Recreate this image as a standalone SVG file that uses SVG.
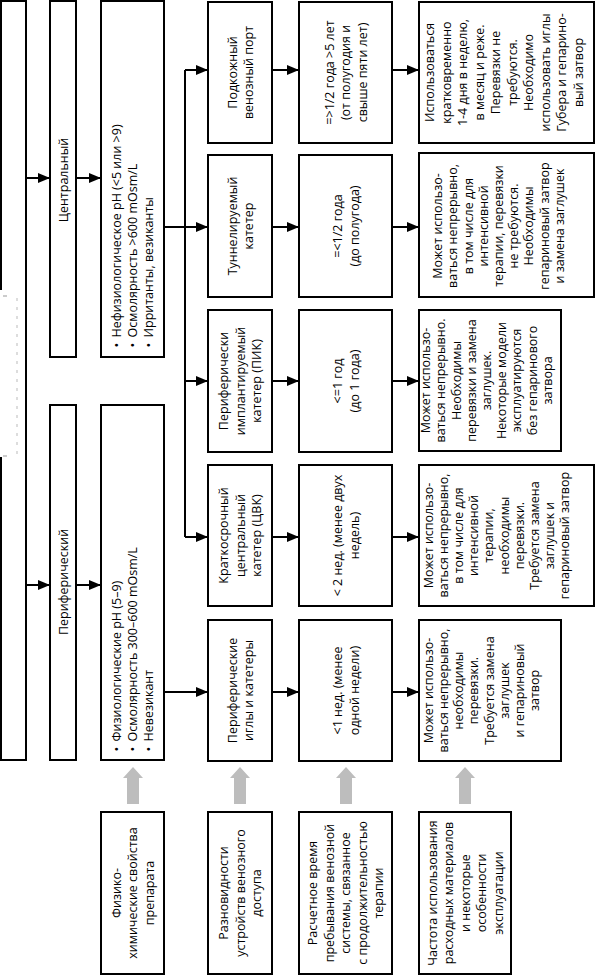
<svg xmlns="http://www.w3.org/2000/svg" width="595" height="977" viewBox="0 0 595 977">
<style>
.box{fill:#fff;stroke:#000;stroke-width:2}
.t{font-family:"Open Sans","Noto Sans",sans-serif;font-size:12.5px;fill:#000}
.m{text-anchor:middle}
.c{stroke:#000;stroke-width:2;fill:none}
.a{marker-end:url(#ah)}
.g{fill:#bdbdbd}
</style>
<defs>
<marker id="ah" viewBox="0 0 12 10" markerWidth="12" markerHeight="10" refX="12" refY="5" orient="auto" markerUnits="userSpaceOnUse">
<path d="M0,0 L12,5 L0,10 z" fill="#000"/>
</marker>
</defs>
<rect width="595" height="977" fill="#fff"/>

<g id="frame">
<path d="M1,290 L1,1 L26,1 L26,760 L1,760 L1,457" fill="none" stroke="#000" stroke-width="2"/>
<path d="M3,296 L7,296 M3,456 L7,456" stroke="#999" stroke-width="1"/>
<line x1="17" y1="298" x2="17" y2="455" stroke="#bbb" stroke-width="1" stroke-dasharray="3,6"/>
</g>

<g id="n-central">
<rect class="box" x="50" y="1" width="26" height="356"/>
<text class="t m" transform="translate(63,180) rotate(-90)" y="4.5">Центральный</text>
</g>
<g id="n-peripheral">
<rect class="box" x="50" y="405" width="26" height="355"/>
<text class="t m" transform="translate(63,582) rotate(-90)" y="4.5">Периферический</text>
</g>

<g id="n-central-props">
<rect class="box" x="101" y="1" width="63" height="356"/>
<g class="t" transform="translate(132.5,179.5) rotate(-90)">
<text x="-168" y="-12">•</text><text x="-158" y="-12">Нефизиологическое рН (&lt;5 или &gt;9)</text>
<text x="-168" y="4">•</text><text x="-158" y="4">Осмолярность &gt;600 mOsm/L</text>
<text x="-168" y="20">•</text><text x="-158" y="20">Ирританты, везиканты</text>
</g>
</g>
<g id="n-peripheral-props">
<rect class="box" x="101" y="405" width="63" height="355"/>
<g class="t" transform="translate(132.5,582.5) rotate(-90)">
<text x="-169" y="-12">•</text><text x="-159" y="-12">Физиологические рН (5–9)</text>
<text x="-169" y="4">•</text><text x="-159" y="4">Осмолярность 300–600 mOsm/L</text>
<text x="-169" y="20">•</text><text x="-159" y="20">Невезикант</text>
</g>
</g>

<g id="n-port">
<rect class="box" x="208" y="2" width="64" height="141"/>
<text class="t m" transform="translate(240,72.5) rotate(-90)"><tspan x="0" y="-3.5">Подкожный</tspan><tspan x="0" y="13">венозный порт</tspan></text>
</g>
<g id="n-tunnel">
<rect class="box" x="208" y="155" width="64" height="142"/>
<text class="t m" transform="translate(240,226) rotate(-90)"><tspan x="0" y="-3.5">Туннелируемый</tspan><tspan x="0" y="13">катетер</tspan></text>
</g>
<g id="n-pik">
<rect class="box" x="208" y="310" width="64" height="142"/>
<text class="t m" transform="translate(240,381) rotate(-90)"><tspan x="0" y="-12">Периферически</tspan><tspan x="0" y="4.5">имплантируемый</tspan><tspan x="0" y="21">катетер (ПИК)</tspan></text>
</g>
<g id="n-cvk">
<rect class="box" x="208" y="465" width="64" height="141"/>
<text class="t m" transform="translate(240,535.5) rotate(-90)"><tspan x="0" y="-12">Краткосрочный</tspan><tspan x="0" y="4.5">центральный</tspan><tspan x="0" y="21">катетер (ЦВК)</tspan></text>
</g>
<g id="n-needles">
<rect class="box" x="208" y="620" width="64" height="141"/>
<text class="t m" transform="translate(240,690.5) rotate(-90)"><tspan x="0" y="-3.5">Периферические</tspan><tspan x="0" y="13">иглы и катетеры</tspan></text>
</g>

<g id="n-time-port">
<rect class="box" x="299" y="2" width="93" height="141"/>
<text class="t m" transform="translate(345.5,72.5) rotate(-90)"><tspan x="0" y="-12">=&gt;1/2 года &gt;5 лет</tspan><tspan x="0" y="4.5">(от полугодия и</tspan><tspan x="0" y="21">свыше пяти лет)</tspan></text>
</g>
<g id="n-time-tunnel">
<rect class="box" x="299" y="155" width="93" height="142"/>
<text class="t m" transform="translate(345.5,226) rotate(-90)"><tspan x="0" y="-3.5">=&lt;1/2 года</tspan><tspan x="0" y="13">(до полугода)</tspan></text>
</g>
<g id="n-time-pik">
<rect class="box" x="299" y="310" width="93" height="142"/>
<text class="t m" transform="translate(345.5,381) rotate(-90)"><tspan x="0" y="-3.5">&lt;=1 год</tspan><tspan x="0" y="13">(до 1 года)</tspan></text>
</g>
<g id="n-time-cvk">
<rect class="box" x="299" y="465" width="93" height="141"/>
<text class="t m" transform="translate(345.5,535.5) rotate(-90)"><tspan x="0" y="-3.5">&lt; 2 нед. (менее двух</tspan><tspan x="0" y="13">недель)</tspan></text>
</g>
<g id="n-time-needles">
<rect class="box" x="299" y="620" width="93" height="141"/>
<text class="t m" transform="translate(345.5,690.5) rotate(-90)"><tspan x="0" y="-3.5">&lt;1 нед. (менее</tspan><tspan x="0" y="13">одной недели)</tspan></text>
</g>

<g id="n-use-port">
<rect class="box" x="419" y="2" width="175" height="141"/>
<text class="t m" transform="translate(504,72.5) rotate(-90)"><tspan x="0" y="-69.75">Использоваться</tspan><tspan x="0" y="-53.25">кратковременно</tspan><tspan x="0" y="-36.75">1-4 дня в неделю,</tspan><tspan x="0" y="-20.25">в месяц и реже.</tspan><tspan x="0" y="-3.75">Перевязки не</tspan><tspan x="0" y="12.75">требуются.</tspan><tspan x="0" y="29.25">Необходимо</tspan><tspan x="0" y="45.75">использовать иглы</tspan><tspan x="0" y="62.25">Губера и гепарино-</tspan><tspan x="0" y="78.75">вый затвор</tspan></text>
</g>
<g id="n-use-tunnel">
<rect class="box" x="419" y="153" width="175" height="144"/>
<text class="t m" transform="translate(499,226) rotate(-90)"><tspan x="0" y="-56.8">Может использо-</tspan><tspan x="0" y="-41.6">ваться непрерывно,</tspan><tspan x="0" y="-26.4">в том числе для</tspan><tspan x="0" y="-11.2">интенсивной</tspan><tspan x="0" y="4">терапии, перевязки</tspan><tspan x="0" y="19.2">не требуются.</tspan><tspan x="0" y="34.4">Необходимы</tspan><tspan x="0" y="49.6">гепариновый затвор</tspan><tspan x="0" y="64.8">и замена заглушек</tspan></text>
</g>
<g id="n-use-pik">
<rect class="box" x="419" y="310" width="142" height="141"/>
<text class="t m" transform="translate(487,380.5) rotate(-90)"><tspan x="0" y="-56.8">Может использо-</tspan><tspan x="0" y="-41.6">ваться непрерывно.</tspan><tspan x="0" y="-26.4">Необходимы</tspan><tspan x="0" y="-11.2">перевязки и замена</tspan><tspan x="0" y="4">заглушек.</tspan><tspan x="0" y="19.2">Некоторые модели</tspan><tspan x="0" y="34.4">эксплуатируются</tspan><tspan x="0" y="49.6">без гепаринового</tspan><tspan x="0" y="64.8">затвора</tspan></text>
</g>
<g id="n-use-cvk">
<rect class="box" x="419" y="465" width="175" height="141"/>
<text class="t m" transform="translate(497,535.5) rotate(-90)"><tspan x="0" y="-64.4">Может использо-</tspan><tspan x="0" y="-49.2">ваться непрерывно,</tspan><tspan x="0" y="-34">в том числе для</tspan><tspan x="0" y="-18.8">интенсивной</tspan><tspan x="0" y="-3.6">терапии,</tspan><tspan x="0" y="11.6">необходимы</tspan><tspan x="0" y="26.8">перевязки.</tspan><tspan x="0" y="42">Требуется замена</tspan><tspan x="0" y="57.2">заглушек  и</tspan><tspan x="0" y="72.4">гепариновый затвор</tspan></text>
</g>
<g id="n-use-needles">
<rect class="box" x="419" y="620" width="142" height="141"/>
<text class="t m" transform="translate(482,690.5) rotate(-90)"><tspan x="0" y="-49.2">Может использо-</tspan><tspan x="0" y="-34">ваться непрерывно,</tspan><tspan x="0" y="-18.8">необходимы</tspan><tspan x="0" y="-3.6">перевязки.</tspan><tspan x="0" y="11.6">Требуется замена</tspan><tspan x="0" y="26.8">заглушек</tspan><tspan x="0" y="42">и гепариновый</tspan><tspan x="0" y="57.2">затвор</tspan></text>
</g>

<g id="n-legend-props">
<rect class="box" x="101" y="812" width="63" height="162"/>
<text class="t m" transform="translate(132.5,893) rotate(-90)"><tspan x="0" y="-12">Физико-</tspan><tspan x="0" y="4.5">химические свойства</tspan><tspan x="0" y="21">препарата</tspan></text>
</g>
<g id="n-legend-devices">
<rect class="box" x="208" y="812" width="64" height="162"/>
<text class="t m" transform="translate(240,893) rotate(-90)"><tspan x="0" y="-12">Разновидности</tspan><tspan x="0" y="4.5">устройств венозного</tspan><tspan x="0" y="21">доступа</tspan></text>
</g>
<g id="n-legend-time">
<rect class="box" x="299" y="812" width="93" height="162"/>
<text class="t m" transform="translate(345.5,893) rotate(-90)"><tspan x="0" y="-28.5">Расчетное время</tspan><tspan x="0" y="-12">пребывания венозной</tspan><tspan x="0" y="4.5">системы, связанное</tspan><tspan x="0" y="21">с продолжительностью</tspan><tspan x="0" y="37.5">терапии</tspan></text>
</g>
<g id="n-legend-use">
<rect class="box" x="419" y="812" width="92" height="162"/>
<text class="t m" transform="translate(465,893) rotate(-90)"><tspan x="0" y="-28.5">Частота использования</tspan><tspan x="0" y="-12">расходных материалов</tspan><tspan x="0" y="4.5">и некоторые</tspan><tspan x="0" y="21">особенности</tspan><tspan x="0" y="37.5">эксплуатации</tspan></text>
</g>

<g id="connectors">
<line class="c a" x1="26" y1="178" x2="50" y2="178"/>
<line class="c a" x1="26" y1="585" x2="50" y2="585"/>
<line class="c a" x1="76" y1="178" x2="101" y2="178"/>
<line class="c a" x1="76" y1="585" x2="101" y2="585"/>
<path class="c" d="M164,227 L185,227 M185,70 L185,537"/>
<line class="c a" x1="185" y1="70" x2="208" y2="70"/>
<line class="c a" x1="185" y1="227" x2="208" y2="227"/>
<line class="c a" x1="185" y1="381" x2="208" y2="381"/>
<line class="c a" x1="185" y1="537" x2="208" y2="537"/>
<line class="c a" x1="164" y1="692" x2="208" y2="692"/>
<line class="c a" x1="272" y1="70" x2="299" y2="70"/>
<line class="c a" x1="272" y1="227" x2="299" y2="227"/>
<line class="c a" x1="272" y1="381" x2="299" y2="381"/>
<line class="c a" x1="272" y1="537" x2="299" y2="537"/>
<line class="c a" x1="272" y1="692" x2="299" y2="692"/>
<line class="c a" x1="392" y1="70" x2="419" y2="70"/>
<line class="c a" x1="392" y1="227" x2="419" y2="227"/>
<line class="c a" x1="392" y1="381" x2="419" y2="381"/>
<line class="c a" x1="392" y1="537" x2="419" y2="537"/>
<line class="c a" x1="392" y1="692" x2="419" y2="692"/>
<polygon class="g" points="133,767 143,778 139,778 139,804 127,804 127,778 123,778"/>
<polygon class="g" points="240,767 250,778 246,778 246,804 234,804 234,778 230,778"/>
<polygon class="g" points="346,767 356,778 352,778 352,804 340,804 340,778 336,778"/>
<polygon class="g" points="465,767 475,778 471,778 471,804 459,804 459,778 455,778"/>
</g>
</svg>
